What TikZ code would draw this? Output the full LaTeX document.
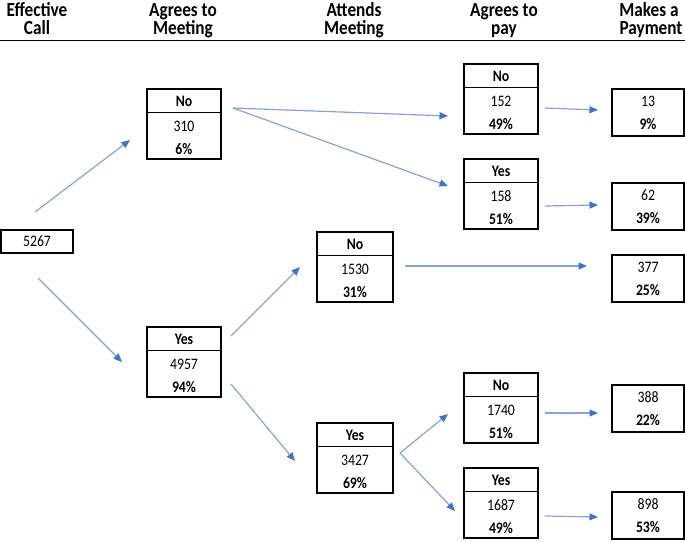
\documentclass[tikz,border=0pt]{standalone}
\usepackage{fontspec}
\setmainfont{Carlito}[FakeStretch=0.86]
\usetikzlibrary{arrows.meta,calc}
\definecolor{arrline}{RGB}{135,163,214}
\definecolor{arrhead}{RGB}{68,114,196}
\newcommand\tribox[7]{%
  \node[tri, minimum width=#7, anchor=north] (#1) at (#2,#3) {};
  \draw[line width=1.6pt] ($(#1.north west)+(0,24.5)$) -- ($(#1.north east)+(0,24.5)$);
  \node[txtb] (#1-h) at ($(#1.north)+(0,18.5)$) {#4};
  \node[txt] (#1-n) at ($(#1.north)+(0,43)$) {#5};
  \node[txtb] (#1-p) at ($(#1.north)+(0,66)$) {#6};
}
\newcommand\duobox[5]{%
  \node[duo, anchor=north] (#1) at (#2,#3) {};
  \node[txt] (#1-n) at ($(#1.north)+(0,18)$) {#4};
  \node[txtb] (#1-p) at ($(#1.north)+(0,41)$) {#5};
}
\begin{document}
\begin{tikzpicture}[x=1pt,y=-1pt,
  box/.style={draw=black, line width=1.6pt, inner sep=0pt, minimum width=72pt},
  tri/.style={box, minimum height=70pt},
  duo/.style={box, minimum height=47pt},
  txt/.style={inner sep=0pt, anchor=base, font=\fontsize{16}{19}\selectfont},
  txtb/.style={txt, font=\fontsize{16}{19}\selectfont\bfseries},
  hdr/.style={inner sep=0pt, anchor=base, font=\fontsize{20}{22}\selectfont\bfseries},
  arr/.style={draw=arrline, line width=1.2pt, -{Triangle[length=8.5pt,width=7pt,color=arrhead]}}]
\useasboundingbox (0,0) rectangle (685,541);

% headers
\node[hdr] (h1a) at (37,16) {Effective};
\node[hdr] (h1b) at (37,34.5) {Call};
\node[hdr] (h2a) at (183,16) {Agrees to};
\node[hdr] (h2b) at (183,34.5) {Meeting};
\node[hdr] (h3a) at (354,16) {Attends};
\node[hdr] (h3b) at (354,34.5) {Meeting};
\node[hdr] (h4a) at (504,16) {Agrees to};
\node[hdr] (h4b) at (504,34.5) {pay};
\node[hdr] (h5a) at (649,16) {Makes a};
\node[hdr] (h5b) at (651,34.5) {Payment};
\coordinate (ruleL) at (0,40.5);
\coordinate (ruleR) at (685,40.5);
\draw[line width=1.6pt] (ruleL) -- (ruleR);

% boxes
\node[box, minimum height=23pt, font=\fontsize{16}{19}\selectfont] (call) at (37,241.5) {5267};
\tribox{mno}{184}{88}{No}{310}{6\%}{74pt}
\tribox{myes}{184}{326}{Yes}{4957}{94\%}{74pt}
\tribox{ano}{355}{231}{No}{1530}{31\%}{76pt}
\tribox{ayes}{355}{422}{Yes}{3427}{69\%}{76pt}
\tribox{pnoA}{501}{63}{No}{152}{49\%}{74pt}
\tribox{pyesA}{501}{158}{Yes}{158}{51\%}{74pt}
\tribox{pnoB}{501}{372}{No}{1740}{51\%}{74pt}
\tribox{pyesB}{501}{467}{Yes}{1687}{49\%}{74pt}
\duobox{yA}{648}{88}{13}{9\%}
\duobox{yB}{648}{182}{62}{39\%}
\duobox{yC}{648}{254}{377}{25\%}
\duobox{yD}{648}{384}{388}{22\%}
\duobox{yE}{648}{491}{898}{53\%}

% connector end points
\coordinate (c1) at (35,212);  \coordinate (e1) at (130,140);
\coordinate (c2) at (38,278);  \coordinate (e2) at (122,362);
\coordinate (c3) at (233,108); \coordinate (e3) at (448,116);
\coordinate (e4) at (448,186);
\coordinate (c5) at (231,336); \coordinate (e5) at (300,267);
\coordinate (c6) at (231,384); \coordinate (e6) at (295,461);
\coordinate (c7) at (400,453); \coordinate (e7) at (448,414);
\coordinate (e8) at (455,511);
\coordinate (c9) at (405,266); \coordinate (e9) at (587,266);
\coordinate (c10) at (545,108); \coordinate (e10) at (598,110);
\coordinate (c11) at (545,206); \coordinate (e11) at (598,205);
\coordinate (c12) at (545,413); \coordinate (e12) at (598,413);
\coordinate (c13) at (545,516); \coordinate (e13) at (598,517);

\draw[arr] (c1) -- (e1);
\draw[arr] (c2) -- (e2);
\draw[arr] (c3) -- (e3);
\draw[arr] (c3) -- (e4);
\draw[arr] (c5) -- (e5);
\draw[arr] (c6) -- (e6);
\draw[arr] (c7) -- (e7);
\draw[arr] (c7) -- (e8);
\draw[arr] (c9) -- (e9);
\draw[arr] (c10) -- (e10);
\draw[arr] (c11) -- (e11);
\draw[arr] (c12) -- (e12);
\draw[arr] (c13) -- (e13);
\end{tikzpicture}
\end{document}
